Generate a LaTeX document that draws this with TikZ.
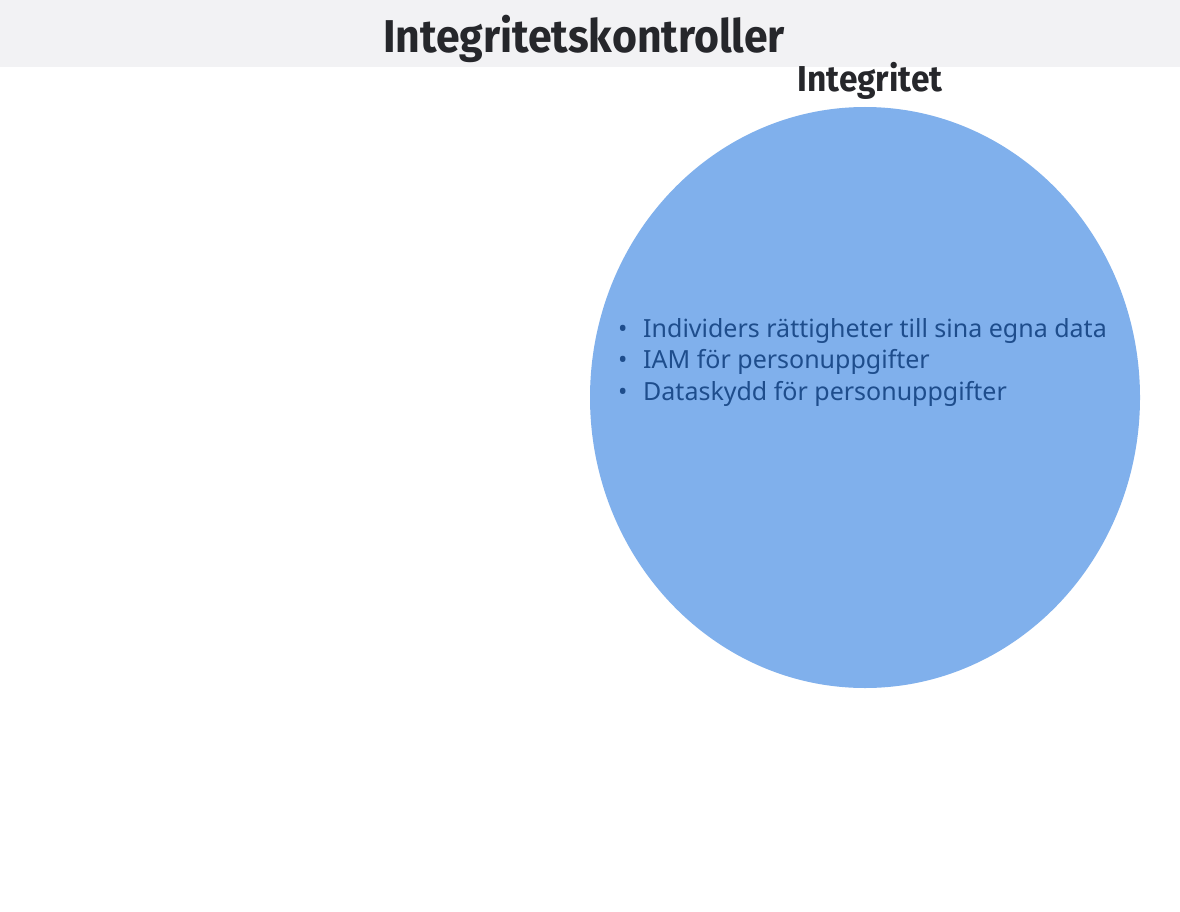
\documentclass[tikz,border=0pt]{standalone}
\usepackage{fontspec}
\setmainfont{Noto Sans}
\newfontfamily\headfont{Fira Sans}[FakeStretch=0.93]
\newfontfamily\bodyfont{Noto Sans}
\usetikzlibrary{shapes.geometric}
\definecolor{headbg}{HTML}{F2F2F4}
\definecolor{titlecol}{HTML}{26272B}
\definecolor{circfill}{HTML}{80B0EC}
\definecolor{bulletcol}{HTML}{1E4D8C}
\tikzset{
  titletext/.style={font=\headfont\bfseries\fontsize{46}{50}\selectfont, text=titlecol, inner sep=0pt},
  labeltext/.style={font=\headfont\bfseries\fontsize{36}{40}\selectfont, text=titlecol, inner sep=0pt},
  bullettext/.style={font=\bodyfont\fontsize{25}{31.5}\selectfont, text=bulletcol, inner sep=0pt, align=left, anchor=west},
}
\begin{document}
\begin{tikzpicture}[x=1pt,y=-1pt]
\useasboundingbox (0,0) rectangle (1180,912);
\fill[white] (0,0) rectangle (1180,912);
\fill[headbg] (0,0) rectangle (1180,67);
\node[titletext] (title) at (584,39) {Integritetskontroller};
\fill[circfill] (865,397.5) ellipse [x radius=275, y radius=290.5];
\node[labeltext] (lbl) at (870,81) {Integritet};
\node[bullettext] (items) at (618,362) {\makebox[25pt][l]{\textbullet}Individers rättigheter till sina egna data\\\makebox[25pt][l]{\textbullet}IAM för personuppgifter\\\makebox[25pt][l]{\textbullet}Dataskydd för personuppgifter};
\end{tikzpicture}
\end{document}
